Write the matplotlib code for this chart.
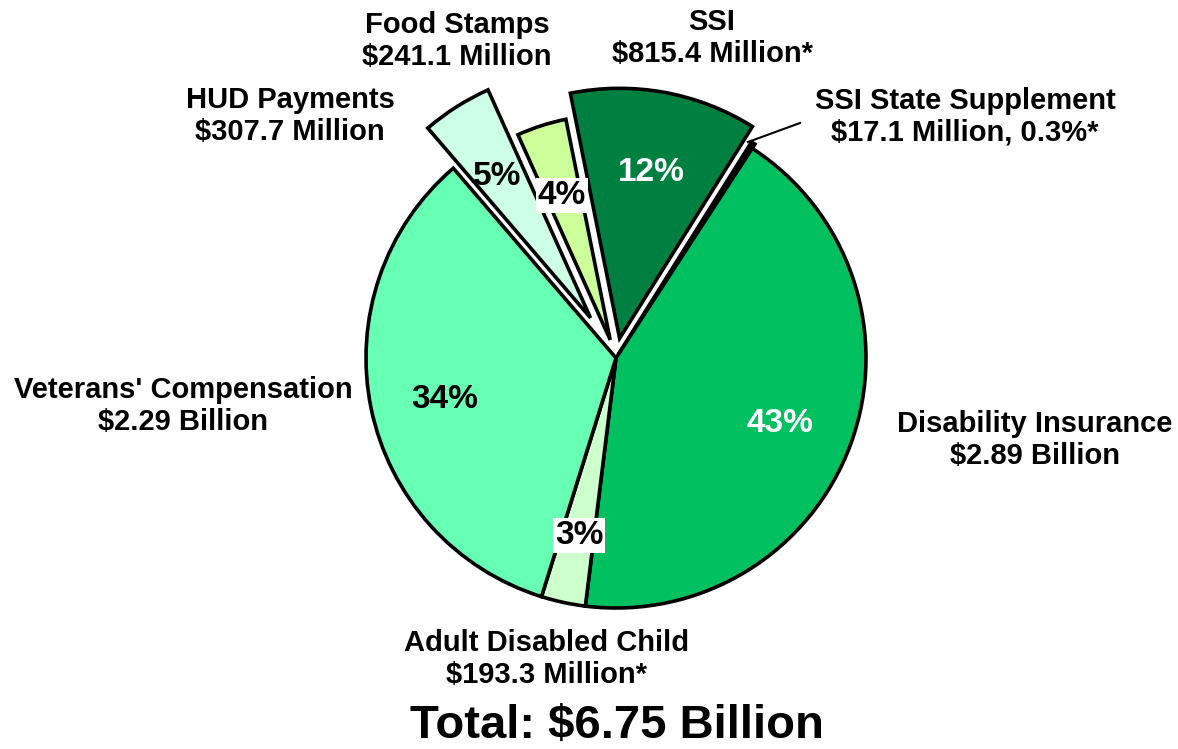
import numpy as np
import matplotlib.pyplot as plt

plt.rcParams['font.family'] = ['Liberation Sans', 'DejaVu Sans']
plt.rcParams['font.weight'] = 'bold'

# data, clockwise from the SSI State Supplement sliver (millions of dollars)
names = ['SSI State Supplement', 'Disability Insurance', 'Adult Disabled Child',
         "Veterans' Compensation", 'HUD Payments', 'Food Stamps', 'SSI']
amounts = [17.1, 2890, 193.3, 2290, 307.7, 241.1, 815.4]
amount_text = ['$17.1 Million, 0.3%*', '$2.89 Billion', '$193.3 Million*',
               '$2.29 Billion', '$307.7 Million', '$241.1 Million', '$815.4 Million*']
pct_text = ['', '43%', '3%', '34%', '5%', '4%', '12%']
total_text = 'Total: $6.75 Billion'

colors = ['#000000', '#00C060', '#CCFFCC', '#66FFB3', '#CCFFE6', '#CCFF99', '#008040']
explode = [0.02, 0, 0, 0, 0.19, 0.076, 0.08]
radii = [1, 1, 1, 1, 1, 0.9, 1]
pct_colors = ['k', 'white', 'k', 'k', 'k', 'k', 'white']
pct_box = [False, False, True, False, False, True, False]

W, H = 1178, 749
cx, cy, R = 616, 358, 250  # pie centre / radius in pixels

fig = plt.figure(figsize=(W / 100, H / 100), dpi=100)
ax = fig.add_axes([0, 0, 1, 1])

wedges, _ = ax.pie(amounts, colors=colors, explode=explode, startangle=57.9,
                   counterclock=False, radius=1,
                   wedgeprops=dict(edgecolor='black', linewidth=2.6, joinstyle='miter'))
for w, r in zip(wedges, radii):
    w.set_radius(r)

ax.set_xlim(-cx / R, (W - cx) / R)
ax.set_ylim(-(H - cy) / R, cy / R)
ax.set_aspect('equal')
ax.axis('off')

# percentage labels inside the slices
for w, r, t, c, b in zip(wedges, radii, pct_text, pct_colors, pct_box):
    if not t:
        continue
    ang = np.deg2rad((w.theta1 + w.theta2) / 2)
    x0, y0 = w.center
    d = 0.7 * r
    bbox = dict(facecolor='white', edgecolor='none', pad=1.5) if b else None
    ax.text(x0 + d * np.cos(ang), y0 + d * np.sin(ang) - 0.024, t, color=c,
            fontsize=24, fontweight='bold', ha='center', va='center', bbox=bbox)


def fpos(x, y):
    return x / W, 1 - y / H


# outer labels (pixel positions of the text blocks)
label_pos = [(965, 117), (1035, 440), (547, 659), (183, 406), (290, 116), (457, 41), (712, 38)]
for n, a, p in zip(names, amount_text, label_pos):
    fig.text(*fpos(*p), n + '\n' + a, fontsize=21, fontweight='bold',
             ha='center', va='center', multialignment='center', linespacing=1.15)

# leader line for the sliver
fig.add_artist(plt.Line2D([800 / W, 748 / W], [1 - 123 / H, 1 - 142 / H],
                          color='black', linewidth=1.5))

fig.text(*fpos(617, 726), total_text, fontsize=34, fontweight='bold',
         ha='center', va='center')

fig.savefig('out.png', dpi=100)
